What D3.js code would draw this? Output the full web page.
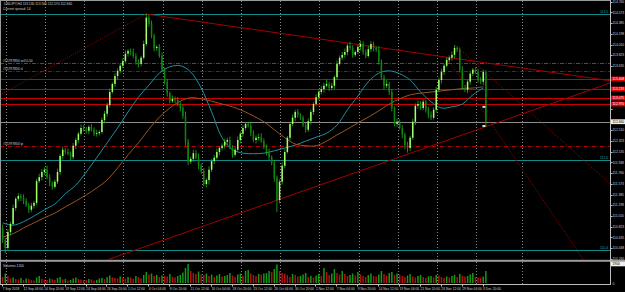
<!DOCTYPE html>
<html>
<head>
<meta charset="utf-8">
<script src="https://cdn.jsdelivr.net/npm/d3@7"></script>
<style>
html, body { margin: 0; padding: 0; background: #000; }
svg { display: block; }
text { font-family: "Liberation Sans", Arial, sans-serif; }
</style>
</head>
<body>
<svg id="chart" width="625" height="292"></svg>
<script>
// USDJPY H4, one candle = two H4 bars
const firstOpen = 110.80;
const closes = [
  110.59,110.45,110.73,110.87,111.15,111.31,111.36,111.33,111.27,111.20,
  111.12,111.19,111.24,111.62,111.69,111.78,111.82,111.69,111.59,111.52,
  111.61,111.78,112.06,112.17,112.13,112.10,112.04,112.24,112.34,112.45,
  112.55,112.53,112.50,112.57,112.52,112.45,112.46,112.48,112.69,112.80,
  112.95,113.18,113.32,113.46,113.55,113.64,113.72,113.85,113.90,113.88,
  113.81,113.71,113.67,113.78,114.02,114.48,114.37,114.16,113.95,113.97,
  113.81,113.57,113.36,113.16,113.02,113.06,113.04,112.97,112.90,112.76,
  112.31,111.96,112.01,112.11,112.03,111.89,111.80,111.57,111.64,111.82,
  111.97,112.03,112.13,112.20,112.24,112.31,112.34,112.22,112.08,112.17,
  112.34,112.45,112.55,112.62,112.59,112.46,112.34,112.38,112.39,112.32,
  112.22,112.13,112.04,111.94,111.68,111.29,111.61,111.89,112.13,112.38,
  112.62,112.73,112.83,112.78,112.73,112.60,112.52,112.67,112.83,112.97,
  113.09,113.18,113.23,113.29,113.32,113.25,113.29,113.44,113.67,113.78,
  113.83,113.88,113.99,113.95,113.83,113.88,113.97,114.02,113.88,113.81,
  113.93,114.02,113.95,113.92,113.71,113.43,113.29,113.32,113.18,112.90,
  112.62,112.66,112.55,112.43,112.25,112.20,112.38,112.66,112.94,112.97,
  112.90,113.01,112.87,112.78,112.73,112.87,113.22,113.39,113.53,113.64,
  113.74,113.78,113.83,113.95,113.92,113.57,113.25,113.22,113.36,113.50,
  113.57,113.53,113.39,113.36,113.53,112.66
];
// wick above / below the body, in hundredths of a yen
const highWick = [
  6,4,5,4,6,3,5,4,6,5,4,5,3,4,6,5,4,7,5,3,4,6,4,5,3,6,4,5,4,3,6,5,4,3,5,4,6,3,4,5,4,6,3,5,4,4,
  5,6,3,4,6,5,4,3,6,7,5,6,4,3,5,6,4,5,3,6,4,5,4,6,8,5,4,6,5,7,4,5,3,6,4,5,6,3,4,5,4,6,3,5,6,4,5,3,4,6,5,4,6,7,5,4,6,3,5,4,4,6,5,3,4,6,4,5,3,4,6,5,4,3,5,
  4,6,5,8,4,5,3,6,4,5,6,4,7,5,3,4,6,5,4,6,5,4,3,6,4,5,7,4,5,3,6,4,5,4,6,3,5,4,6,5,4,3,5,6,4,5,4,6,3,5,4,6,5,3,4,6,5,4,5,3,4,6,5,4,3
];
const lowWick = [
  5,9,4,6,3,5,4,6,5,3,6,4,5,4,3,6,5,4,6,5,3,4,5,6,4,3,5,4,6,5,3,4,5,6,3,4,5,4,3,6,5,4,3,5,6,4,
  4,3,5,6,4,5,6,4,3,4,5,4,6,5,3,4,5,6,4,3,5,4,6,5,7,6,4,5,3,6,5,4,6,8,4,5,3,6,4,5,6,4,5,3,4,6,5,4,3,5,4,6,5,3,4,6,5,4,7,21,6,5,4,3,5,4,6,5,4,3,5,4,6,5,4,
  5,4,6,3,5,4,6,5,3,4,5,6,4,5,3,4,6,5,4,3,5,6,4,5,3,6,4,5,6,4,5,3,6,7,8,5,4,6,5,3,4,5,6,4,3,5,4,6,5,3,4,5,6,4,5,3,4,6,5,4,3,5,4,6,9
];
// tick volume, tens of ticks
const volumes = [
  60,95,70,45,55,40,35,50,30,45,40,30,25,55,70,40,35,30,45,38,30,50,60,35,40,25,30,45,55,40,35,30,28,40,35,25,30,45,50,40,60,75,55,50,45,65,
  50,45,60,55,40,70,60,45,80,110,85,95,70,80,60,75,70,65,90,60,55,70,80,105,150,190,120,100,90,115,85,80,95,70,85,60,75,90,65,70,
  80,100,75,60,85,95,70,120,130,95,80,70,90,85,95,100,120,110,140,185,120,100,95,80,60,90,80,65,70,85,100,60,70,55,75,
  90,70,150,110,80,95,140,100,85,120,90,70,80,95,75,110,85,70,60,80,95,70,65,85,120,90,75,100,110,80,95,85,70,60,75,90,65,55,70,80,
  60,50,65,70,55,80,75,60,50,65,55,70,80,60,90,75,65,70,85,100,60,55,50,65,120
];
// moving averages read every 4th candle
const maStep = 4;
const maFast = [110.89,110.85,110.91,111.01,111.12,111.22,111.40,111.55,111.78,112.03,112.29,112.55,112.83,113.09,113.30,113.51,
  113.62,113.64,113.53,113.25,112.83,112.38,112.17,112.11,112.10,112.11,112.15,112.20,112.25,112.32,112.39,112.46,112.60,112.87,
  113.11,113.36,113.51,113.55,113.50,113.39,113.18,113.01,112.90,112.92,112.97,113.13,113.25];
const maSlow = [110.64,110.70,110.80,110.89,110.98,111.06,111.17,111.27,111.38,111.50,111.64,111.85,112.08,112.29,112.53,112.74,
  112.90,113.02,113.08,113.06,113.02,112.97,112.92,112.85,112.76,112.66,112.52,112.38,112.27,112.24,112.24,112.32,112.43,112.53,
  112.64,112.74,112.85,112.97,113.06,113.13,113.16,113.18,113.20,113.22,113.24,113.25,113.27];

const priceTicks = [114.760,114.573,114.385,114.198,114.010,113.823,113.635,113.448,113.260,113.073,112.885,112.698,112.510,
  112.323,112.135,111.948,111.760,111.573,111.385,111.198,111.010,110.823,110.635,110.448,110.260];
const dateLabels = ["7 Sep 2018","12 Sep 04:00","14 Sep 20:00","19 Sep 12:00","24 Sep 04:00","26 Sep 20:00","1 Oct 12:00",
  "4 Oct 04:00","8 Oct 20:00","11 Oct 12:00","16 Oct 04:00","18 Oct 20:00","23 Oct 12:00","26 Oct 04:00","30 Oct 20:00",
  "2 Nov 12:00","7 Nov 04:00","9 Nov 20:00","14 Nov 12:00","19 Nov 04:00","21 Nov 20:00","26 Nov 12:00","29 Nov 04:00","3 Dec 20:00"];
const dateLabelEvery = 16;     // H4 bars between labels
const weekStarts = [3,33,63,93,123,153,183,213,243,273,303,333,363];
const vLineBars = [398];

// objects on the chart
const tealLevels = [114.545, 111.99, 110.415];
const tealNotes = ["114.5", "112.0", "110.4"];
const redLevels = [113.408, 113.233, 113.075, 112.970];
const orderOpen = 113.688, orderSL = 113.548, orderTP = 112.235;
const orderTicket = "#15797834";
const dottedLines = [[[0, 113.145], [110.3, 114.545], false], [[346.9, 114.00], [429.6, 112.31], true], [[340.7, 113.775], [446.4, 110.205], true]];
const solidLines = [[[110.3, 114.545], [358.3, 113.73]], [[80.4, 110.24], [381.3, 112.66]]];
const markerBar = 369;
const markerPrices = [112.92, 112.585];

const svg = d3.select("#chart");
const W = 625, axisX = 610.5;
const x = d3.scaleLinear().domain([0, 466]).range([2, 610.6]);
const y = d3.scaleLinear().domain([110.2575, 114.79]).range([259, 0]);
const yv = d3.scaleLinear().domain([0, d3.max(volumes)]).range([283, 264]);

const candles = closes.map((c, i) => {
  const o = i === 0 ? firstOpen : closes[i - 1];
  return { i, o, c, h: Math.max(o, c) + highWick[i] / 100, l: Math.min(o, c) - lowWick[i] / 100, bar: 2 * i + 0.5 };
});

svg.append("rect").attr("width", W).attr("height", 292).attr("fill", "#000");
svg.append("defs").append("clipPath").attr("id", "main")
  .append("rect").attr("x", 0).attr("y", 0).attr("width", axisX).attr("height", 259.5);

// week separators
svg.append("g").selectAll("line").data(weekStarts.concat(vLineBars)).join("line")
  .attr("x1", d => Math.round(x(d)) + 0.5).attr("x2", d => Math.round(x(d)) + 0.5)
  .attr("y1", 1).attr("y2", 284)
  .attr("stroke", "#8a8a8a").attr("stroke-width", 1).attr("stroke-dasharray", "1,2");

const objs = svg.append("g").attr("clip-path", "url(#main)");

function hline(p, color, dash) {
  const yy = Math.round(y(p)) + 0.5;
  objs.append("line").attr("x1", 0).attr("x2", axisX).attr("y1", yy).attr("y2", yy)
    .attr("stroke", color).attr("stroke-width", 1).attr("stroke-dasharray", dash || null);
}
tealLevels.forEach(p => hline(p, "#138a8a"));
redLevels.forEach(p => hline(p, "#c80000"));
hline(orderOpen, "#0f7a0f", "4,1.5,1,1.5");
hline(orderSL, "#b00000", "4,1.5,1,1.5");
hline(orderTP, "#b00000", "4,1.5,1,1.5");
hline(closes[closes.length - 1], "#8c8c8c");

function extend(a, b, ray) {
  const x2 = ray ? 470 : b[0];
  const k = (b[1] - a[1]) / (b[0] - a[0]);
  return [[x(a[0]), y(a[1])], [x(x2), y(a[1] + k * (x2 - a[0]))]];
}
dottedLines.forEach(([a, b, ray]) => {
  objs.append("path").attr("d", d3.line()(extend(a, b, ray)))
    .attr("stroke", "#9a0000").attr("stroke-width", 1).attr("stroke-dasharray", "1,1.2").attr("fill", "none");
});
solidLines.forEach(([a, b]) => {
  objs.append("path").attr("d", d3.line()(extend(a, b, true)))
    .attr("stroke", "#a30000").attr("stroke-width", 1).attr("fill", "none");
});

// moving averages
function maLine(vals, color) {
  objs.append("path")
    .datum(vals.map((v, k) => [x(2 * k * maStep + 0.5), y(v)]))
    .attr("d", d3.line().curve(d3.curveCatmullRom))
    .attr("stroke", color).attr("stroke-width", 1).attr("fill", "none");
}
maLine(maFast, "#1f8f9f");
maLine(maSlow, "#9a5420");

// candles
const cg = objs.append("g");
cg.selectAll("line").data(candles).join("line")
  .attr("x1", d => x(d.bar)).attr("x2", d => x(d.bar))
  .attr("y1", d => y(d.h)).attr("y2", d => y(d.l))
  .attr("stroke", "#1fb01f").attr("stroke-width", 0.8);
cg.selectAll("rect").data(candles).join("rect")
  .attr("x", d => x(d.bar) - 0.75).attr("width", 1.5)
  .attr("y", d => y(Math.max(d.o, d.c)))
  .attr("height", d => Math.max(0.8, Math.abs(y(d.o) - y(d.c))))
  .attr("fill", d => d.c >= d.o ? "#a6ff6a" : "#0c860c");

objs.selectAll(".mk").data(markerPrices).join("rect").attr("class", "mk")
  .attr("x", x(markerBar) - 1.5).attr("y", d => y(d) - 1).attr("width", 3).attr("height", 2)
  .attr("fill", "#d8d8d8");

// panel frame
svg.append("line").attr("x1", 0).attr("x2", axisX).attr("y1", 0.5).attr("y2", 0.5).attr("stroke", "#9a9a9a");
svg.append("line").attr("x1", 0.5).attr("x2", 0.5).attr("y1", 0).attr("y2", 284).attr("stroke", "#9a9a9a");
svg.append("rect").attr("x", 0).attr("y", 259.8).attr("width", W).attr("height", 2).attr("fill", "#9a9a9a");
svg.append("line").attr("x1", 0).attr("x2", axisX).attr("y1", 284.5).attr("y2", 284.5).attr("stroke", "#bdbdbd");
svg.append("line").attr("x1", axisX).attr("x2", axisX).attr("y1", 0).attr("y2", 285).attr("stroke", "#bdbdbd");

// volumes
svg.append("g").selectAll("rect").data(volumes).join("rect")
  .attr("x", (d, i) => x(2 * i + 0.5) - 0.75).attr("width", 1.5)
  .attr("y", d => yv(d)).attr("height", d => 283 - yv(d))
  .attr("fill", (d, i) => i > 0 && d > volumes[i - 1] ? "#139a13" : "#b01212");

// texts
const fs = 3.3;
const txt = (t, xx, yy, color, anchor) => svg.append("text").attr("x", xx).attr("y", yy)
  .attr("font-size", fs).attr("fill", color || "#d0d0d0").attr("text-anchor", anchor || "start").text(t);

const last = candles[candles.length - 1];
txt("USDJPY,H4  " + [last.o, last.h, last.l, last.c].map(v => v.toFixed(3)).join(" "), 4, 4.6);
txt("Current spread: 14", 3, 10);
txt(orderTicket + " sell 0.50", 3, y(orderOpen) - 0.8);
txt(orderTicket + " sl", 3, y(orderSL) - 0.8);
txt(orderTicket + " tp", 3, y(orderTP) - 0.8);
tealLevels.forEach((p, k) => txt(tealNotes[k], 608, y(p) - 0.8, "#21a7a7", "end"));
txt("Volumes " + volumes[volumes.length - 1] * 10, 3, 266.5);

// price axis; labels hidden under the coloured price boxes are left out
const boxPrices = redLevels.concat([last.c]);
const freeTicks = priceTicks.filter(t => boxPrices.every(b => Math.abs(y(t) - y(b)) > 5));
const axisG = svg.append("g");
axisG.selectAll("line").data(priceTicks).join("line")
  .attr("x1", axisX).attr("x2", axisX + 2).attr("y1", d => Math.round(y(d)) + 0.5).attr("y2", d => Math.round(y(d)) + 0.5)
  .attr("stroke", "#bdbdbd");
axisG.selectAll("text").data(freeTicks).join("text")
  .attr("x", 612.5).attr("y", d => y(d) + 1.2).attr("font-size", fs).attr("fill", "#d0d0d0").text(d => d.toFixed(3));

function priceBox(p, bg, fg) {
  const yy = y(p);
  svg.append("rect").attr("x", axisX + 0.5).attr("y", yy - 2.4).attr("width", 14).attr("height", 4.8).attr("fill", bg);
  svg.append("text").attr("x", 612.5).attr("y", yy + 1.2).attr("font-size", fs).attr("fill", fg).text(p.toFixed(3));
}
redLevels.forEach(p => priceBox(p, "#e00000", "#ffffff"));
priceBox(last.c, "#f0f0f0", "#000000");

// volume axis
svg.append("rect").attr("x", axisX + 0.5).attr("y", 261.5).attr("width", 14).attr("height", 4.8).attr("fill", "#f0f0f0");
svg.append("text").attr("x", 612.5).attr("y", 265.1).attr("font-size", fs).attr("fill", "#000").text(d3.max(volumes) * 10);
txt("0", 612.5, 284.5);

// date axis
svg.append("g").selectAll("text").data(dateLabels).join("text")
  .attr("x", (d, k) => x(k * dateLabelEvery) + 0.5).attr("y", 289.8)
  .attr("font-size", fs).attr("fill", "#d0d0d0").text(d => d);
svg.append("g").selectAll("line").data(dateLabels).join("line")
  .attr("x1", (d, k) => Math.round(x(k * dateLabelEvery)) + 0.5).attr("x2", (d, k) => Math.round(x(k * dateLabelEvery)) + 0.5)
  .attr("y1", 284).attr("y2", 286.5).attr("stroke", "#bdbdbd");
</script>
</body>
</html>
